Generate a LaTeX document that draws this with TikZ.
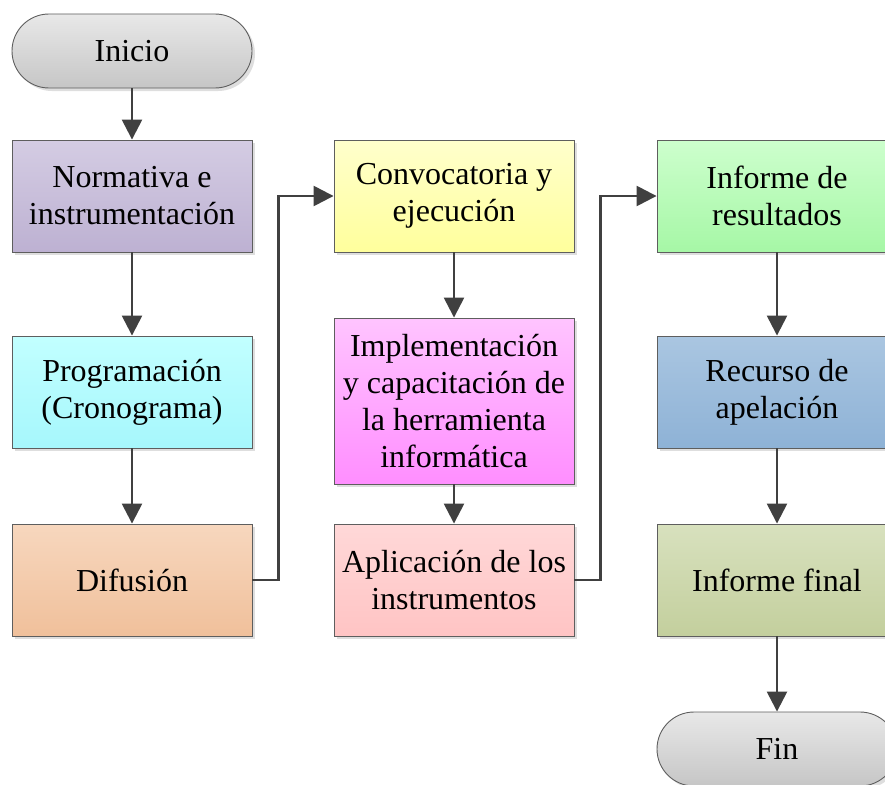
\documentclass[tikz,border=0pt]{standalone}
\usepackage{fontspec}
\setmainfont{Liberation Serif}
\usetikzlibrary{arrows.meta,shadows}
\definecolor{arrowc}{HTML}{404040}
\definecolor{bordc}{HTML}{5E5E5E}
\definecolor{grayT}{HTML}{E8E8E8}\definecolor{grayB}{HTML}{C6C6C6}
\definecolor{purT}{HTML}{D4CCE3}\definecolor{purB}{HTML}{BDB1D2}
\definecolor{cyaT}{HTML}{C2FFFF}\definecolor{cyaB}{HTML}{A6F7FC}
\definecolor{oraT}{HTML}{F7D7BE}\definecolor{oraB}{HTML}{F0C09B}
\definecolor{yelT}{HTML}{FFFFCC}\definecolor{yelB}{HTML}{FFFF9C}
\definecolor{magT}{HTML}{FFC4FF}\definecolor{magB}{HTML}{FF8EFF}
\definecolor{pinT}{HTML}{FFD8D8}\definecolor{pinB}{HTML}{FFC4C4}
\definecolor{greT}{HTML}{CDFFCD}\definecolor{greB}{HTML}{A6F7A6}
\definecolor{bluT}{HTML}{AAC6E1}\definecolor{bluB}{HTML}{8EB2D6}
\definecolor{oliT}{HTML}{D8E1BE}\definecolor{oliB}{HTML}{C3CF9D}
\tikzset{
  box/.style={rectangle, draw=bordc, line width=0.9pt, minimum width=240pt, minimum height=112pt,
    align=center, inner sep=2pt, font=\fontsize{32}{37}\selectfont,
    drop shadow={shadow xshift=3pt, shadow yshift=-3pt, fill=black!18, opacity=0.7}},
  term/.style={box, minimum height=74pt, rounded corners=37pt},
  grad/.style 2 args={top color=#1, bottom color=#2},
  flow/.style={draw=arrowc, line width=2.5pt, -{Triangle[length=20pt,width=20pt]}},
}
\begin{document}
\begin{tikzpicture}[x=1pt,y=-1pt]
\clip (0,0) rectangle (885,784);
\fill[white] (0,0) rectangle (885,784);
\node[term, grad={grayT}{grayB}] (ini) at (132,51) {Inicio};
\node[box, grad={purT}{purB}] (n1) at (132,196) {Normativa e\\instrumentación};
\node[box, grad={cyaT}{cyaB}] (n2) at (132,392) {Programación\\(Cronograma)};
\node[box, grad={oraT}{oraB}] (n3) at (132,580) {Difusión};
\node[box, grad={yelT}{yelB}] (c1) at (454,196) {Convocatoria y\\ejecución};
\node[box, grad={magT}{magB}, minimum height=166pt] (c2) at (454,401) {Implementación\\y capacitación de\\la herramienta\\informática};
\node[box, grad={pinT}{pinB}] (c3) at (454,580) {Aplicación de los\\instrumentos};
\node[box, grad={greT}{greB}] (r1) at (777,196) {Informe de\\resultados};
\node[box, grad={bluT}{bluB}] (r2) at (777,392) {Recurso de\\apelación};
\node[box, grad={oliT}{oliB}] (r3) at (777,580) {Informe final};
\node[term, grad={grayT}{grayB}] (fin) at (777,749) {Fin};
\draw[flow] (ini) -- (n1);
\draw[flow] (n1) -- (n2);
\draw[flow] (n2) -- (n3);
\draw[flow] (n3.east) -- ++(26,0) |- (c1.west);
\draw[flow] (c1) -- (c2);
\draw[flow] (c2) -- (c3);
\draw[flow] (c3.east) -- ++(26,0) |- (r1.west);
\draw[flow] (r1) -- (r2);
\draw[flow] (r2) -- (r3);
\draw[flow] (r3) -- (fin);
\end{tikzpicture}
\end{document}
